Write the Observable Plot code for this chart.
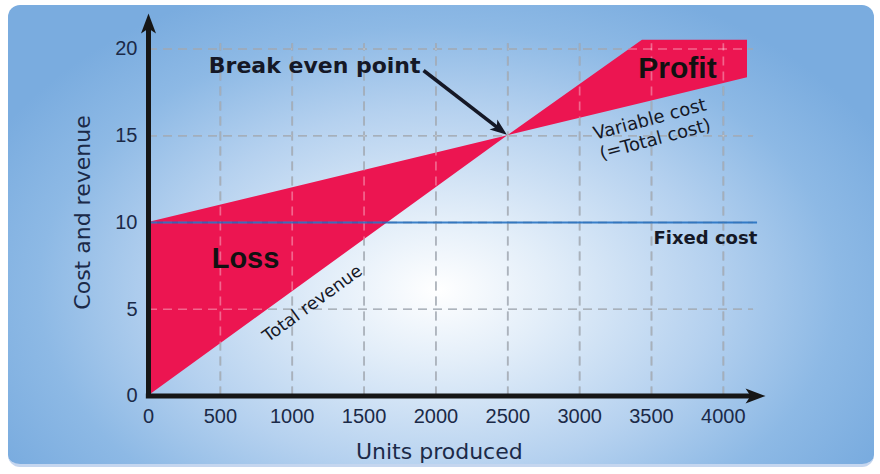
<!DOCTYPE html>
<html><head><meta charset="utf-8">
<script src="https://cdn.jsdelivr.net/npm/d3@7"></script>
<script src="https://cdn.jsdelivr.net/npm/@observablehq/plot@0.6"></script>
<style>
html,body{margin:0;padding:0;background:#fff;}
#wrap{position:relative;width:880px;height:474px;overflow:hidden;}
#card{position:absolute;left:8px;top:5px;width:866px;height:459px;border-radius:12px;
  background:radial-gradient(ellipse 500px 330px at 430px 285px,#ffffff 0%,#e3eef9 22%,#b5d1ef 55%,#8db9e5 80%,#7aacdf 100%);
  border-bottom:3px solid #c5d6ef;}
#chart{position:absolute;left:0;top:0;}
</style></head><body>
<div id="wrap"><div id="card"></div><div id="chart"></div></div>
<script>
// Data
const units        = [0, 2500, 3437, 4168];
const totalRevenue = [0, 15, 20.5, 20.5];   // capped at the top edge of the chart
const totalCost    = [10, 15, 16.87, 18.34];
const fixedCost    = [10];
const fixedCostEnd = 4238;
const xTicks = [0, 500, 1000, 1500, 2000, 2500, 3000, 3500, 4000];
const yTicks = [0, 5, 10, 15, 20];
const gridXEnd = 4210, gridYEnd = 20.3;
const axisXEnd = 4224, axisYEnd = 21.47;

// annotation anchors (data coordinates)
const breakEvenLabel = [{x: 1893, y: 19.05, text: "Break even point"}];
const breakEvenArrow = [{x1: 1914, y1: 18.76, x2: 2447, y2: 15.35}];
const profitLabel = [{x: 3681, y: 18.9, text: "Profit"}];
const lossLabel = [{x: 675, y: 7.9, text: "Loss"}];
const fixedLabel = [{x: 3514, y: 9.08, text: "Fixed cost"}];
const revenueLabel = [{x: 1141, y: 5.33, text: "Total revenue"}];
const costLabel = [{x: 3505, y: 15.42, text: "Variable cost\n(=Total cost)"}];

const table = units.map((u, i) => ({units: u, revenue: totalRevenue[i], cost: totalCost[i]}));

const pink = "#ec1551";
const ink = "#151826";
const navy = "#1b2a48";

const arrowHead = {
  draw(ctx, size) {
    const s = Math.sqrt(size / Math.PI);
    ctx.moveTo(0, -s);
    ctx.lineTo(0.75 * s, s);
    ctx.lineTo(0, 0.5 * s);
    ctx.lineTo(-0.75 * s, s);
    ctx.closePath();
  }
};

const gridStyle = {strokeWidth: 1.7, strokeDasharray: "9,6"};

const chart = Plot.plot({
  width: 880,
  height: 474,
  marginLeft: 148,
  marginRight: 128.4,
  marginTop: 48.5,
  marginBottom: 78.5,
  x: {domain: [0, 4200]},
  y: {domain: [0, 20]},
  style: {background: "transparent", fontFamily: "DejaVu Sans", color: navy, overflow: "visible"},
  marks: [
    // grid (under)
    Plot.ruleX(xTicks.slice(1), {y1: 0, y2: gridYEnd, stroke: "#6d7886", strokeOpacity: 0.85, ...gridStyle}),
    Plot.ruleY(yTicks.slice(1), {x1: 0, x2: gridXEnd, stroke: "#6d7886", strokeOpacity: 0.85, ...gridStyle}),
    // loss / profit area between revenue and cost
    Plot.areaY(table, {x: "units", y1: "cost", y2: "revenue", fill: pink}),
    // grid lightening over the area
    Plot.ruleX(xTicks.slice(1), {y1: 0, y2: gridYEnd, stroke: "#ffffff", strokeOpacity: 0.35, ...gridStyle}),
    Plot.ruleY(yTicks.slice(1), {x1: 0, x2: gridXEnd, stroke: "#ffffff", strokeOpacity: 0.35, ...gridStyle}),
    // fixed cost
    Plot.ruleY(fixedCost, {x1: 0, x2: fixedCostEnd, stroke: "#1d6cbf", strokeWidth: 2.2, strokeOpacity: 0.85}),
    // axes lines with arrowheads
    Plot.ruleX([0], {y1: -0.15, y2: axisYEnd, stroke: "#161616", strokeWidth: 5}),
    Plot.ruleY([0], {x1: -15, x2: axisXEnd, stroke: "#161616", strokeWidth: 5}),
    Plot.dot([{x: 0, y: axisYEnd}], {x: "x", y: "y", r: 10, symbol: arrowHead, fill: "#161616", stroke: "none"}),
    Plot.dot([{x: axisXEnd, y: 0}], {x: "x", y: "y", r: 10, symbol: arrowHead, fill: "#161616", stroke: "none", rotate: 90}),
    // tick labels
    Plot.axisY({ticks: yTicks, tickSize: 0, tickPadding: 11, fontSize: 20, fontFamily: "Liberation Sans", label: null, fill: navy, tickFormat: d => String(d)}),
    Plot.axisX({ticks: xTicks, tickSize: 0, tickPadding: 13, fontSize: 20, fontFamily: "Liberation Sans", label: null, fill: navy, tickFormat: d => String(d)}),
    // axis titles
    Plot.text(["Cost and revenue"], {frameAnchor: "left", textAnchor: "middle", lineAnchor: "middle", dx: -66, dy: -10, rotate: -90, fontSize: 22, fill: navy}),
    Plot.text(["Units produced"], {frameAnchor: "bottom", textAnchor: "middle", lineAnchor: "middle", dx: -11, dy: 55.5, fontSize: 22, fill: navy}),
    // break even
    Plot.link(breakEvenArrow, {x1: "x1", y1: "y1", x2: "x2", y2: "y2", stroke: ink, strokeWidth: 3.6}),
    Plot.dot(breakEvenArrow, {x: "x2", y: "y2", r: 8.5, symbol: arrowHead, fill: ink, stroke: "none", rotate: 127.6}),
    Plot.text(breakEvenLabel, {x: "x", y: "y", text: "text", textAnchor: "end", fontSize: 22, fontWeight: "bold", fill: ink}),
    // region labels
    Plot.text(profitLabel, {x: "x", y: "y", text: "text", fontSize: 30, fontWeight: "bold", fill: "#111", fontFamily: "Liberation Sans"}),
    Plot.text(lossLabel, {x: "x", y: "y", text: "text", fontSize: 29, fontWeight: "bold", fill: "#111", fontFamily: "Liberation Sans"}),
    Plot.text(fixedLabel, {x: "x", y: "y", text: "text", textAnchor: "start", fontSize: 18, fontWeight: "bold", fill: ink}),
    Plot.text(revenueLabel, {x: "x", y: "y", text: "text", rotate: -36, fontSize: 17.5, fill: ink}),
    Plot.text(costLabel, {x: "x", y: "y", text: "text", rotate: -15, fontSize: 18, lineHeight: 1.15, fill: ink})
  ]
});
document.getElementById("chart").appendChild(chart);
</script>
</body></html>
